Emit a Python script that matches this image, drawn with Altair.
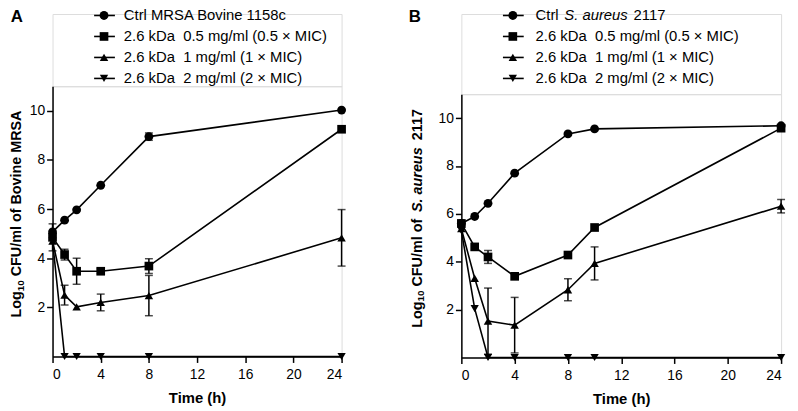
import altair as alt
import pandas as pd

FONT = "Liberation Sans"

# ---------------- data ----------------
series_keys = ["ctrl", "half", "one", "two"]
series_shapes = ["circle", "square", "triangle-up", "triangle-down"]
series_sizes = [80, 70, 95, 95]

# Panel A : MRSA Bovine 1158c
a_time = [0, 1, 2, 4, 8, 24]
a_ctrl = [5.07, 5.55, 5.97, 6.97, 8.95, 10.03]
a_ctrl_err = [0, 0, 0, 0, 0.15, 0]
a_half = [4.85, 4.15, 3.47, 3.47, 3.68, 9.25]
a_half_err = [0.55, 0.22, 0.53, 0.1, 0.3, 0]
a_one = [4.7, 2.5, 2.02, 2.2, 2.48, 4.83]
a_one_err = [0, 0.4, 0, 0.34, 0.82, 1.15]
a_two = [4.7, 0, 0, 0, 0, 0]
a_two_err = [0, 0, 0, 0, 0, 0]

# Panel B : S. aureus 2117
b_time = [0, 1, 2, 4, 8, 10, 24]
b_ctrl = [5.6, 5.89, 6.44, 7.7, 9.34, 9.55, 9.68]
b_ctrl_err = [0, 0, 0, 0, 0, 0, 0]
b_half = [5.6, 4.62, 4.2, 3.39, 4.28, 5.43, 9.58]
b_half_err = [0, 0, 0.27, 0, 0, 0, 0]
b_one = [5.38, 3.31, 1.52, 1.35, 2.83, 3.93, 6.32]
b_one_err = [0, 0, 1.38, 1.16, 0.46, 0.69, 0.28]
b_two = [5.3, 2.04, 0, 0, 0, 0, 0]
b_two_err = [0, 0, 0, 0, 0, 0, 0]

legend_a = ["Ctrl MRSA Bovine 1158c",
            "2.6 kDa\u00a0 0.5 mg/ml (0.5 \u00d7 MIC)",
            "2.6 kDa\u00a0 1 mg/ml (1 \u00d7 MIC)",
            "2.6 kDa\u00a0 2 mg/ml (2 \u00d7 MIC)"]
legend_b = ["",
            "2.6 kDa\u00a0 0.5 mg/ml (0.5 \u00d7 MIC)",
            "2.6 kDa\u00a0 1 mg/ml (1 \u00d7 MIC)",
            "2.6 kDa\u00a0 2 mg/ml (2 \u00d7 MIC)"]

x_ticks = [0, 4, 8, 12, 16, 20, 24]
y_ticks = [2, 4, 6, 8, 10]


def long_table(time, vals, errs):
    rows = []
    for key, v, e in zip(series_keys, vals, errs):
        for t, vv, ee in zip(time, v, e):
            rows.append({"time": t, "value": vv, "err": ee, "series": key})
    return pd.DataFrame(rows)


shape_enc = alt.Shape("series:N", scale=alt.Scale(domain=series_keys, range=series_shapes), legend=None)
size_enc = alt.Size("series:N", scale=alt.Scale(domain=series_keys, range=series_sizes), legend=None)

axis_common = dict(domainColor="black", domainWidth=1.5, tickColor="black", tickWidth=1.5,
                   tickSize=6, labelFont=FONT, labelFontSize=14, labelColor="black",
                   grid=False, titleFont=FONT, titleFontSize=15, titleFontWeight="bold",
                   titleColor="black")


def plot_panel(df, w, h, title_parts, title_x):
    xs = alt.Scale(domain=[0, 24], nice=False)
    ys = alt.Scale(domain=[0, 11], nice=False)
    xax = alt.Axis(values=x_ticks, title="Time (h)", labelPadding=5, titlePadding=9, **axis_common)
    yax = alt.Axis(values=y_ticks, title=None, labelPadding=2, **axis_common)
    X = alt.X("time:Q", scale=xs, axis=xax)
    base = alt.Chart(df)
    lines = base.mark_line(color="black", strokeWidth=1.6).encode(
        x=X, y=alt.Y("value:Q", scale=ys, axis=yax), detail="series:N")
    err = base.transform_filter("datum.err > 0").transform_calculate(
        lo="max(0, datum.value - datum.err)", hi="datum.value + datum.err")
    rules = err.mark_rule(color="black", strokeWidth=1.5).encode(
        x=X, y=alt.Y("lo:Q", scale=ys, axis=yax), y2="hi:Q")
    cap_lo = err.mark_tick(orient="horizontal", color="black", thickness=1.5, size=8).encode(
        x=X, y=alt.Y("lo:Q", scale=ys, axis=yax))
    cap_hi = err.mark_tick(orient="horizontal", color="black", thickness=1.5, size=8).encode(
        x=X, y=alt.Y("hi:Q", scale=ys, axis=yax))
    pts = base.mark_point(filled=True, opacity=1, color="black").encode(
        x=X, y=alt.Y("value:Q", scale=ys, axis=yax), shape=shape_enc, size=size_enc)
    layers = [lines, rules, cap_lo, cap_hi, pts]
    one = pd.DataFrame({"k": [0]})
    for text, ypos, size, style, dxx in title_parts:
        layers.append(alt.Chart(one).mark_text(
            angle=270, align="left", baseline="middle", font=FONT, fontSize=size,
            fontWeight="bold", fontStyle=style, color="black", text=text).encode(
            x=alt.value(title_x + dxx), y=alt.value(ypos)))
    return alt.layer(*layers).properties(width=w, height=h)


def legend_panel(labels, w, h, letter, letter_x, text_x, extra=None):
    dfl = pd.DataFrame({"row": [0, 1, 2, 3], "series": series_keys, "label": labels})
    step = 21.2
    d0 = -1.5 / step
    Y = alt.Y("row:Q", scale=alt.Scale(domain=[d0, d0 + h / step], reverse=True, nice=False, zero=False), axis=None)
    base = alt.Chart(dfl)
    segs = base.mark_rule(color="black", strokeWidth=1.6).encode(
        x=alt.value(42), x2=alt.value(63), y=Y)
    marks = base.mark_point(filled=True, opacity=1, color="black").encode(
        x=alt.value(52), y=Y, shape=shape_enc, size=size_enc)
    texts = base.mark_text(align="left", baseline="middle", font=FONT, fontSize=15, color="black").encode(
        x=alt.value(text_x), y=Y, text="label:N")
    one = pd.DataFrame({"k": [0]})
    let = alt.Chart(one).mark_text(align="center", baseline="middle", font=FONT, fontSize=17,
                                   fontWeight="bold", color="black", text=letter).encode(
        x=alt.value(letter_x), y=alt.value(3.5))
    layers = [segs, marks, texts, let]
    if extra:
        for text, xpos, style in extra:
            layers.append(alt.Chart(one).mark_text(
                align="left", baseline="middle", font=FONT, fontSize=15, fontStyle=style,
                color="black", text=text).encode(x=alt.value(xpos), y=alt.value(1.5)))
    return alt.layer(*layers).properties(width=w, height=h)


dfa = long_table(a_time, [a_ctrl, a_half, a_one, a_two], [a_ctrl_err, a_half_err, a_one_err, a_two_err])
dfb = long_table(b_time, [b_ctrl, b_half, b_one, b_two], [b_ctrl_err, b_half_err, b_one_err, b_two_err])

WA, HA = 292, 273
WB, HB = 323, 266
GAP = 121

title_a = [("Log", 233.7, 14.5, "normal", 0),
           ("10", 207.1, 10, "normal", 3.5),
           ("CFU/ml of Bovine MRSA", 192.0, 14.5, "normal", 0)]
title_b = [("Log", 236.0, 14.5, "normal", 0),
           ("10", 209.4, 10, "normal", 3.5),
           ("CFU/ml of", 194.3, 14.5, "normal", 0),
           ("S. aureus", 119.0, 14.5, "italic", 0),
           ("2117", 46.5, 14.5, "normal", 0)]

plotA = plot_panel(dfa, WA, HA, title_a, -35.5)
plotB = plot_panel(dfb, WB, HB, title_b, -44)

legA = legend_panel(legend_a, WA, 73, "A", -36, 72)
legB = legend_panel(legend_b, WB, 81, "B", -47, 75,
                    extra=[("Ctrl", 75, "normal"), ("S. aureus", 104, "italic"), ("2117", 174, "normal")])

colA = alt.vconcat(legA, plotA, spacing=0, bounds="flush")
colB = alt.vconcat(legB, plotB, spacing=0, bounds="flush")

# nested flush columns report zero width, so the spacing carries panel A's width
chart = alt.hconcat(colA, colB, spacing=WA + GAP, bounds="flush").properties(
    autosize=alt.AutoSizeParams(type="none"),
    padding={"left": 45, "top": 4, "right": 745, "bottom": 398},
).configure_view(stroke=None).configure(background="white")

chart.save("out.html", embed_options={"renderer": "svg", "actions": False})
